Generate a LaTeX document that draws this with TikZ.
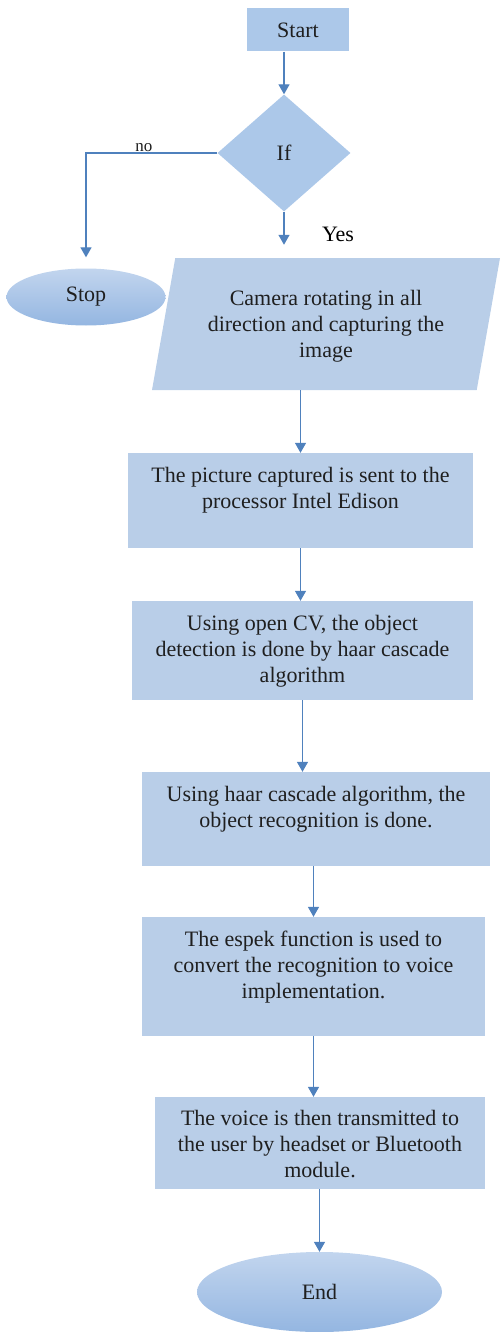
\documentclass[tikz,border=0pt]{standalone}
\usepackage{fontspec}
\setmainfont{Liberation Serif}
\usetikzlibrary{
  arrows.meta,
  positioning,
  shapes.geometric
}
\definecolor{boxFill}{RGB}{185,206,232}
\definecolor{headFill}{RGB}{172,200,233}
\definecolor{flowBlue}{RGB}{79,129,189}
\definecolor{ovalTop}{RGB}{194,213,238}
\definecolor{ovalBottom}{RGB}{148,182,225}
\colorlet{ink}{black!88}
\tikzset{
  flow/.style={-{Triangle[length=10pt,width=11pt]}, draw=flowBlue, line width=1.4pt},
  headbox/.style={rectangle, fill=headFill, inner sep=0pt, text=ink},
  procbox/.style={rectangle, fill=boxFill, inner sep=0pt, text=ink},
  decision/.style={diamond, fill=headFill, inner sep=0pt, text=ink},
  iobox/.style={
    trapezium,
    trapezium left angle=80,
    trapezium right angle=100,
    trapezium stretches body,
    fill=boxFill,
    inner sep=0pt,
    text=ink
  },
  terminal/.style={ellipse, top color=ovalTop, bottom color=ovalBottom, draw=none, inner sep=0pt, text=ink},
  small label/.style={font=\fontsize{17}{19}\selectfont, text=ink, inner sep=1pt}
}
% text hung from the top edge of a box: width, height, top gap, lines
\newcommand{\BoxText}[4]{%
  \parbox[c][#2][t]{#1}{\centering\vspace*{#3}\strut#4}%
}

\begin{document}
\begin{tikzpicture}[x=1pt,y=-1pt,font=\fontsize{22}{26}\selectfont]
  \useasboundingbox (0,0) rectangle (501,1332);

  \node[headbox, minimum width=102, minimum height=43] (start) at (298,30) {Start};
  \node[decision, minimum width=133, minimum height=117] (cond) at (284,153) {If};
  \node[terminal, minimum width=159, minimum height=57] (stop) at (86,297) {Stop};

  \node[iobox, minimum width=348, minimum height=132] (capture) at (326,324)
    {\BoxText{290pt}{132pt}{29pt}{Camera rotating in all\\direction and capturing the\\image}};

  \node[procbox, minimum width=345] (send) at (300.5,500.5)
    {\BoxText{330pt}{95pt}{11pt}{The picture captured is sent to the\\processor Intel Edison}};
  \node[procbox, minimum width=341] (detect) at (302.5,650.5)
    {\BoxText{330pt}{99pt}{11pt}{Using open CV, the object\\detection is done by haar cascade\\algorithm}};
  \node[procbox, minimum width=348] (recog) at (316,819)
    {\BoxText{330pt}{94pt}{11pt}{Using haar cascade algorithm, the\\object recognition is done.}};
  \node[procbox, minimum width=343] (speak) at (313.5,976.5)
    {\BoxText{330pt}{119pt}{11pt}{The espek function is used to\\convert the recognition to voice\\implementation.}};
  \node[procbox, minimum width=330] (voice) at (320,1143)
    {\BoxText{320pt}{92pt}{10pt}{The voice is then transmitted to\\the user by headset or Bluetooth\\module.}};

  \node[terminal, minimum width=245, minimum height=80] (end) at (319.5,1292) {End};

  \draw[flow] (start.south -| cond.north) -- (cond.north);
  \draw[flow, shorten >=11pt] (cond.west) -| node[small label, pos=0.28, above] {no} (stop.north);
  \draw[flow, shorten >=13pt] (cond.south) -- node[pos=0.5, right=34pt] {Yes} (cond.south |- capture.north);
  \draw[flow] (capture.south -| send.north) -- (send.north);
  \draw[flow] (send.south) -- (send.south |- detect.north);
  \draw[flow] (detect.south) -- (detect.south |- recog.north);
  \draw[flow] (recog.south -| speak.north) -- (speak.north);
  \draw[flow] (speak.south) -- (speak.south |- voice.north);
  \draw[flow] (voice.south -| end.north) -- (end.north);
\end{tikzpicture}
\end{document}
